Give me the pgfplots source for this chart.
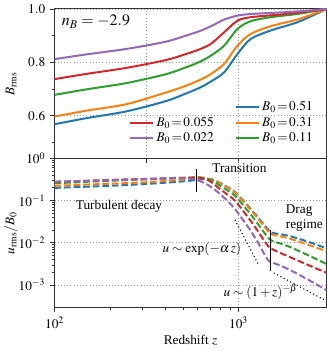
\documentclass[border=0pt]{standalone}
\usepackage{mathptmx}
\usepackage{fontspec}
\setmainfont{Liberation Serif}
\usepackage{pgfplots}
\pgfplotsset{compat=1.18}

\definecolor{cblue}{HTML}{1F77B4}
\definecolor{corange}{HTML}{FF7F0E}
\definecolor{cgreen}{HTML}{2CA02C}
\definecolor{cred}{HTML}{D62728}
\definecolor{cpurple}{HTML}{9467BD}

\pgfplotsset{
  /pgfplots/mypanel/.style={
    scale only axis, width=204.75pt, height=112.5pt,
    xmin=100, xmax=3000,
    font=\fontsize{10}{12}\selectfont,
    axis line style={black!80, line width=0.8pt},
    tick align=outside, tick pos=left,
    major tick length=3.5pt, minor tick length=2pt,
    every tick/.style={black!80, line width=0.6pt},
    grid style={dotted, gray!80, line width=0.6pt},
    xmajorgrids, ymajorgrids,
    ylabel style={at={(axis description cs:-0.16,0.5)}, anchor=center},
  },
}
\tikzset{
  mycurve/.style={line width=1.5pt, smooth},
  mydcurve/.style={line width=1.5pt, smooth, dash pattern=on 5pt off 2.2pt},
}

\begin{document}
\begin{tikzpicture}
% ---- top: B_rms ----
\begin{axis}[mypanel, xmode=log,
    at={(0,0)}, anchor=south west,
    ymin=0.44, ymax=1.0,
    ytick={0.6,0.8,1.0},
    minor ytick={0.5,0.7,0.9},
    yticklabel style={/pgf/number format/.cd, fixed, fixed zerofill, precision=1},
    xticklabels={},
    ylabel={$B_\mathrm{rms}$},
    legend columns=2,
    legend cell align=left,
    legend style={draw=none, fill=none, at={(0.975,0.06)}, anchor=south east,
      font=\fontsize{10}{12}\selectfont, row sep=-0.5pt,
      /tikz/every even column/.append style={column sep=14pt}},
    legend image code/.code={\draw[#1] (0pt,0pt) -- (17pt,0pt);},
]
\addplot[mycurve, cblue, forget plot] coordinates {
 (100,0.568) (150,0.591) (245,0.616) (400,0.654) (517,0.683) (620,0.706) (706,0.728)
 (833,0.762) (985,0.831) (1161,0.887) (1489,0.919) (2119,0.952) (3000,1.0)};
\addplot[mycurve, corange, forget plot] coordinates {
 (100,0.597) (150,0.619) (245,0.643) (400,0.686) (517,0.712) (620,0.735) (706,0.756)
 (833,0.794) (985,0.862) (1161,0.906) (1489,0.935) (2119,0.962) (3000,1.0)};
\addplot[mycurve, cgreen, forget plot] coordinates {
 (100,0.678) (150,0.699) (245,0.722) (400,0.755) (517,0.781) (620,0.803) (706,0.825)
 (833,0.862) (985,0.925) (1161,0.954) (1489,0.969) (2119,0.982) (3000,1.0)};
\addplot[mycurve, cred, forget plot] coordinates {
 (100,0.737) (150,0.757) (245,0.779) (400,0.808) (517,0.831) (620,0.850) (706,0.869)
 (833,0.912) (985,0.956) (1161,0.969) (1489,0.976) (2119,0.986) (3000,1.0)};
\addplot[mycurve, cpurple, forget plot] coordinates {
 (100,0.812) (150,0.830) (245,0.850) (400,0.877) (517,0.900) (620,0.918) (706,0.935)
 (833,0.960) (985,0.975) (1161,0.981) (1489,0.985) (2119,0.991) (3000,1.0)};

\addlegendimage{empty legend}\addlegendentry{}
\addlegendimage{cblue, line width=1.5pt}\addlegendentry{$B_0\,{=}\,0.51$}
\addlegendimage{cred, line width=1.5pt}\addlegendentry{$B_0\,{=}\,0.055$}
\addlegendimage{corange, line width=1.5pt}\addlegendentry{$B_0\,{=}\,0.31$}
\addlegendimage{cpurple, line width=1.5pt}\addlegendentry{$B_0\,{=}\,0.022$}
\addlegendimage{cgreen, line width=1.5pt}\addlegendentry{$B_0\,{=}\,0.11$}

\node[anchor=north west, font=\fontsize{12}{14}\selectfont] at (axis description cs:0.01,0.99) {$n_B = -2.9$};
\end{axis}

% ---- bottom: u_rms / B_0 ----
\begin{axis}[mypanel, xmode=log, ymode=log,
    at={(0,0)}, anchor=north west,
    ymin=2.9e-4, ymax=1,
    ytick={1e-3,1e-2,1e-1,1},
    xtick={100,1000},
    ylabel={$u_\mathrm{rms}/B_0$},
    xlabel={Redshift $z$},
    xlabel style={yshift=2pt},
]
\addplot[mydcurve, cblue] coordinates {
 (100,0.200) (200,0.224) (300,0.245) (450,0.275) (600,0.309) (663,0.324) (720,0.316) (783,0.269)
 (870,0.209) (963,0.155) (1186,0.0575) (1430,0.0219) (1520,0.0174) (1855,0.0148) (2400,0.0105) (3000,0.00741)};
\addplot[mydcurve, corange] coordinates {
 (100,0.224) (200,0.251) (300,0.269) (450,0.302) (600,0.339) (663,0.335) (720,0.309) (783,0.266)
 (870,0.204) (963,0.150) (1186,0.0550) (1430,0.0200) (1520,0.0158) (1855,0.0129) (2400,0.00891) (3000,0.00631)};
\addplot[mydcurve, cgreen] coordinates {
 (100,0.257) (200,0.295) (300,0.316) (450,0.339) (600,0.355) (663,0.339) (720,0.295) (783,0.234)
 (870,0.174) (963,0.126) (1186,0.0422) (1430,0.0141) (1520,0.0112) (1855,0.00832) (2400,0.00501) (3000,0.00316)};
\addplot[mydcurve, cred] coordinates {
 (100,0.275) (200,0.309) (300,0.324) (450,0.343) (600,0.351) (663,0.324) (720,0.263) (783,0.195)
 (870,0.138) (963,0.0955) (1186,0.0295) (1430,0.00891) (1520,0.00708) (1855,0.00479) (2400,0.00295) (3000,0.00195)};
\addplot[mydcurve, cpurple] coordinates {
 (100,0.282) (200,0.302) (300,0.320) (450,0.343) (520,0.339) (590,0.309) (663,0.251) (720,0.200) (783,0.150)
 (870,0.0977) (963,0.0603) (1186,0.0170) (1430,0.00417) (1500,0.00355) (1855,0.00240) (2400,0.00132) (3000,0.000759)};

% regime markers and asymptotic slopes
\addplot[black, line width=1.3pt] coordinates {(590,0.55) (590,0.16)};
\addplot[black, line width=1.3pt] coordinates {(1489,0.0204) (1489,0.00213)};
\addplot[black, dotted, line width=0.8pt] coordinates {(955,0.035) (1290,0.0029)};
\addplot[black, dotted, line width=0.8pt] coordinates {(1553,0.00194) (3000,0.00042)};

\node at (axis cs:1010,0.58) {Transition};
\node at (axis cs:224,0.074) {Turbulent decay};
\node[align=left] at (axis cs:2275,0.0385) {Drag\\regime};
\node at (axis cs:631,0.0069) {$u\sim\exp(-\alpha\, z)$};
\node at (axis cs:1315,0.00069) {$u\sim(1+z)^{-\beta}$};
\end{axis}
\end{tikzpicture}
\end{document}
